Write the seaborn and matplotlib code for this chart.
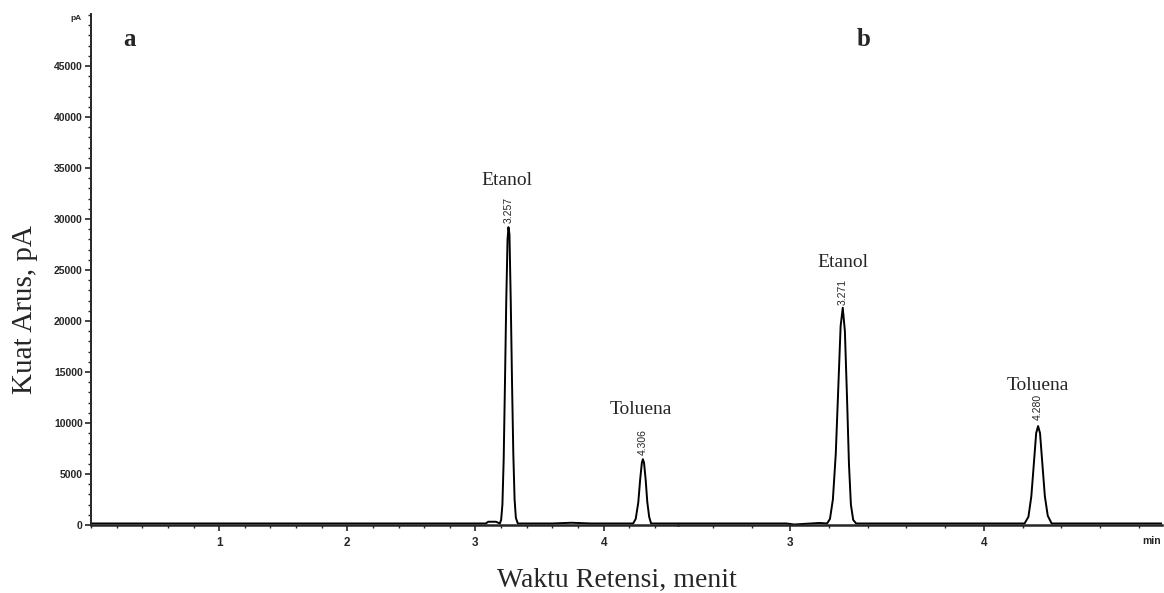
import numpy as np
import pandas as pd
import matplotlib
matplotlib.use("Agg")
import matplotlib.pyplot as plt
from matplotlib.ticker import MultipleLocator, FixedLocator
import seaborn as sns

### Chromatogram: panel a and panel b side by side ###

# trace a (time in min, signal in pA)
a_time = [0.00, 2.90, 3.08, 3.10, 3.16, 3.19, 3.20, 3.21, 3.22, 3.23, 3.24, 3.25, 3.257,
          3.265, 3.275, 3.285, 3.295, 3.305, 3.315, 3.33, 3.60, 3.75, 3.90, 4.23, 4.25,
          4.27, 4.285, 4.298, 4.306, 4.315, 4.328, 4.34, 4.355, 4.37, 4.58]
a_signal = [150, 150, 150, 320, 320, 150, 500, 2000, 6500, 14000, 22000, 28000, 29200,
            28500, 22000, 14000, 7000, 2500, 700, 150, 150, 220, 150, 150, 600,
            2200, 4500, 6100, 6450, 6100, 4400, 2300, 800, 150, 150]

# trace b
b_time = [2.42, 2.98, 3.02, 3.15, 3.19, 3.205, 3.22, 3.235, 3.248, 3.26, 3.271, 3.282,
          3.293, 3.303, 3.313, 3.325, 3.34, 3.60, 3.95, 4.21, 4.23, 4.245, 4.258, 4.27,
          4.28, 4.29, 4.302, 4.315, 4.33, 4.35, 4.70, 4.92]
b_signal = [150, 150, 50, 200, 150, 600, 2500, 7000, 13500, 19500, 21300, 19000,
            12500, 6000, 2000, 500, 150, 150, 150, 150, 800, 2800, 6000, 9000,
            9700, 9000, 6000, 2800, 900, 150, 150, 150]

# peak labels
a_peaks = ["Etanol", "Toluena"]
a_rt = [3.257, 4.306]
b_peaks = ["Etanol", "Toluena"]
b_rt = [3.271, 4.280]

df_a = pd.DataFrame({"t": a_time, "pA": a_signal})
df_b = pd.DataFrame({"t": b_time, "pA": b_signal})

sns.set_style("ticks")
plt.rcParams["font.family"] = ["Liberation Sans", "DejaVu Sans"]

W, H = 1164, 593
fig = plt.figure(figsize=(W / 100, H / 100), dpi=100)

y_bottom = 68 / H
y_height = (525 - 14) / H
ax_a = fig.add_axes([91 / W, y_bottom, (678 - 91) / W, y_height])
ax_b = fig.add_axes([678 / W, y_bottom, (1162 - 678) / W, y_height])

sns.lineplot(data=df_a, x="t", y="pA", ax=ax_a, color="black", lw=1.4, sort=False)
sns.lineplot(data=df_b, x="t", y="pA", ax=ax_b, color="black", lw=1.4, sort=False)

ax_a.set_xlim(0, 4.58)
ax_b.set_xlim(2.42, 4.92)
for ax in (ax_a, ax_b):
    ax.set_ylim(0, 50100)
    ax.set_xlabel("")
    ax.set_ylabel("")
    ax.spines["top"].set_visible(False)
    ax.spines["right"].set_visible(False)
    ax.spines["bottom"].set_linewidth(1.8)
    ax.spines["left"].set_linewidth(1.4)
    ax.patch.set_alpha(0)
    ax.tick_params(axis="x", which="major", length=4, width=1.2, pad=5,
                   labelsize=8.5)
    ax.tick_params(axis="x", which="minor", length=2.5, width=1.0)

ax_a.xaxis.set_major_locator(FixedLocator([1, 2, 3, 4]))
ax_a.xaxis.set_minor_locator(MultipleLocator(0.2))
ax_b.xaxis.set_major_locator(FixedLocator([3, 4]))
ax_b.xaxis.set_minor_locator(MultipleLocator(0.2))

ax_a.yaxis.set_minor_locator(MultipleLocator(1000))
ax_a.tick_params(axis="y", which="major", length=4, width=1.2, pad=2, labelsize=7.5)
ax_a.tick_params(axis="y", which="minor", length=2, width=1.0)
ax_a.set_yticks(np.arange(0, 50000, 5000))
ax_a.set_yticklabels([str(v) for v in range(0, 50000, 5000)], fontweight="bold")

ax_b.spines["left"].set_visible(False)
ax_b.set_yticks([])
ax_b.tick_params(axis="y", which="both", left=False, labelleft=False)

for lab in ax_a.get_xticklabels() + ax_b.get_xticklabels():
    lab.set_fontweight("bold")

# peak names and retention times
serif = ["Liberation Serif", "DejaVu Serif"]
a_name_y = [33800, 11300]
a_rt_y = [30900, 8150]
for name, rt, ny, ry in zip(a_peaks, a_rt, a_name_y, a_rt_y):
    ax_a.text(rt - 0.015, ny, name, family=serif, fontsize=14, ha="center", va="center")
    ax_a.text(rt, ry, f"{rt:.3f}", fontsize=7.5, rotation=90, ha="center", va="center")

b_name_y = [25700, 13700]
b_rt_y = [22850, 11600]
for name, rt, ny, ry in zip(b_peaks, b_rt, b_name_y, b_rt_y):
    ax_b.text(rt, ny, name, family=serif, fontsize=14, ha="center", va="center")
    ax_b.text(rt, ry, f"{rt:.3f}", fontsize=7.5, rotation=90, ha="center", va="center")

# panel letters and axis titles
fig.text(130 / W, 1 - 40 / H, "a", family=serif, fontsize=18, fontweight="bold",
         ha="center", va="center")
fig.text(864 / W, 1 - 39 / H, "b", family=serif, fontsize=18, fontweight="bold",
         ha="center", va="center")
fig.text(76 / W, 1 - 19 / H, "pA", fontsize=6, fontweight="bold", ha="center", va="center")
fig.text(1161 / W, 1 - 541 / H, "min", fontsize=7.5, fontweight="bold", ha="right", va="center")

fig.text(617 / W, 1 - 580 / H, "Waktu Retensi, menit", family=serif, fontsize=20,
         ha="center", va="center")
fig.text(25 / W, 1 - 310 / H, "Kuat Arus, pA", family=serif, fontsize=21,
         rotation=90, ha="center", va="center")

fig.savefig("out.png", dpi=100)
